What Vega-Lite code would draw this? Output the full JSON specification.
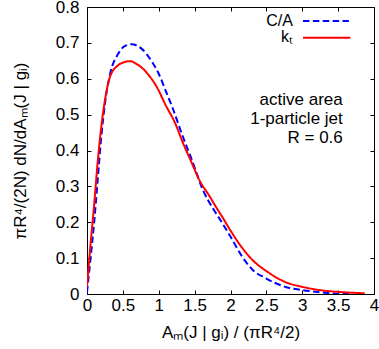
{
  "$schema": "https://vega.github.io/schema/vega-lite/v6.json",
  "autosize": "none",
  "width": 287,
  "height": 287,
  "padding": {"left": 87, "top": 7, "right": 5, "bottom": 56},
  "background": "white",
  "config": {
    "font": "Liberation Sans",
    "view": {"stroke": "black", "strokeWidth": 1},
    "axis": {"grid": false, "domain": false, "tickColor": "black", "tickSize": -4, "labelFontSize": 17, "labelColor": "black", "titleFontSize": 17, "titleFontWeight": "normal", "titleColor": "black", "labelFont": "Liberation Sans", "titleFont": "Liberation Sans"}
  },
  "data": {"values": [
    {"alg": "C/A", "x": 0, "y": 0.005},
    {"alg": "C/A", "x": 0.05, "y": 0.1},
    {"alg": "C/A", "x": 0.1, "y": 0.2},
    {"alg": "C/A", "x": 0.15, "y": 0.32},
    {"alg": "C/A", "x": 0.2, "y": 0.44},
    {"alg": "C/A", "x": 0.25, "y": 0.53},
    {"alg": "C/A", "x": 0.32, "y": 0.612},
    {"alg": "C/A", "x": 0.43, "y": 0.668},
    {"alg": "C/A", "x": 0.52, "y": 0.69},
    {"alg": "C/A", "x": 0.62, "y": 0.696},
    {"alg": "C/A", "x": 0.7, "y": 0.692},
    {"alg": "C/A", "x": 0.76, "y": 0.684},
    {"alg": "C/A", "x": 0.88, "y": 0.655},
    {"alg": "C/A", "x": 0.99, "y": 0.618},
    {"alg": "C/A", "x": 1.1, "y": 0.565},
    {"alg": "C/A", "x": 1.2, "y": 0.515},
    {"alg": "C/A", "x": 1.32, "y": 0.447},
    {"alg": "C/A", "x": 1.45, "y": 0.38},
    {"alg": "C/A", "x": 1.62, "y": 0.288},
    {"alg": "C/A", "x": 1.75, "y": 0.24},
    {"alg": "C/A", "x": 1.85, "y": 0.209},
    {"alg": "C/A", "x": 2.0, "y": 0.16},
    {"alg": "C/A", "x": 2.15, "y": 0.108},
    {"alg": "C/A", "x": 2.31, "y": 0.067},
    {"alg": "C/A", "x": 2.5, "y": 0.043},
    {"alg": "C/A", "x": 2.78, "y": 0.019},
    {"alg": "C/A", "x": 3.0, "y": 0.011},
    {"alg": "C/A", "x": 3.24, "y": 0.005},
    {"alg": "C/A", "x": 3.47, "y": 0.001},
    {"alg": "C/A", "x": 3.7, "y": 0.0},
    {"alg": "kₜ", "x": 0, "y": 0.02},
    {"alg": "kₜ", "x": 0.05, "y": 0.14},
    {"alg": "kₜ", "x": 0.1, "y": 0.25},
    {"alg": "kₜ", "x": 0.15, "y": 0.37},
    {"alg": "kₜ", "x": 0.19, "y": 0.45},
    {"alg": "kₜ", "x": 0.25, "y": 0.54},
    {"alg": "kₜ", "x": 0.32, "y": 0.605},
    {"alg": "kₜ", "x": 0.43, "y": 0.637},
    {"alg": "kₜ", "x": 0.5, "y": 0.645},
    {"alg": "kₜ", "x": 0.6, "y": 0.649},
    {"alg": "kₜ", "x": 0.7, "y": 0.64},
    {"alg": "kₜ", "x": 0.78, "y": 0.628},
    {"alg": "kₜ", "x": 0.88, "y": 0.605},
    {"alg": "kₜ", "x": 0.97, "y": 0.578},
    {"alg": "kₜ", "x": 1.1, "y": 0.525},
    {"alg": "kₜ", "x": 1.22, "y": 0.48},
    {"alg": "kₜ", "x": 1.34, "y": 0.42},
    {"alg": "kₜ", "x": 1.45, "y": 0.37},
    {"alg": "kₜ", "x": 1.57, "y": 0.316},
    {"alg": "kₜ", "x": 1.7, "y": 0.275},
    {"alg": "kₜ", "x": 1.8, "y": 0.242},
    {"alg": "kₜ", "x": 1.9, "y": 0.21},
    {"alg": "kₜ", "x": 2.0, "y": 0.177},
    {"alg": "kₜ", "x": 2.15, "y": 0.132},
    {"alg": "kₜ", "x": 2.31, "y": 0.094},
    {"alg": "kₜ", "x": 2.5, "y": 0.064},
    {"alg": "kₜ", "x": 2.78, "y": 0.032},
    {"alg": "kₜ", "x": 3.0, "y": 0.02},
    {"alg": "kₜ", "x": 3.24, "y": 0.011},
    {"alg": "kₜ", "x": 3.5, "y": 0.006},
    {"alg": "kₜ", "x": 3.87, "y": 0.002}
  ]},
  "resolve": {"axis": {"x": "independent", "y": "independent"}},
  "layer": [
    {
      "mark": {"type": "line", "strokeWidth": 2, "clip": true, "interpolate": "monotone"},
      "encoding": {
        "x": {"field": "x", "type": "quantitative", "scale": {"domain": [0, 4], "nice": false},
          "axis": {"orient": "bottom", "values": [0, 0.5, 1, 1.5, 2, 2.5, 3, 3.5, 4], "format": "~g", "labelPadding": 7, "labelFlush": false, "title": "Aₘ(J | gᵢ) / (πR⁴/2)", "titlePadding": 11}},
        "y": {"field": "y", "type": "quantitative", "scale": {"domain": [0, 0.8], "nice": false},
          "axis": {"orient": "left", "values": [0, 0.1, 0.2, 0.3, 0.4, 0.5, 0.6, 0.7, 0.8], "format": "~g", "labelPadding": 12, "labelFlush": false, "title": "πR⁴/(2N) dN/dAₘ(J | gᵢ)", "titlePadding": 26}},
        "color": {"field": "alg", "type": "nominal", "scale": {"domain": ["C/A", "kₜ"], "range": ["#0000ff", "#ff0000"]}, "legend": null},
        "strokeDash": {"field": "alg", "type": "nominal", "scale": {"domain": ["C/A", "kₜ"], "range": [[6.5, 3.4], [1, 0]]}, "legend": null}
      }
    },
    {
      "mark": {"type": "point", "opacity": 0},
      "encoding": {
        "x": {"field": "x", "type": "quantitative", "scale": {"domain": [0, 4], "nice": false},
          "axis": {"orient": "top", "values": [0, 0.5, 1, 1.5, 2, 2.5, 3, 3.5, 4], "labels": false, "title": null}},
        "y": {"field": "y", "type": "quantitative", "scale": {"domain": [0, 0.8], "nice": false},
          "axis": {"orient": "right", "values": [0, 0.1, 0.2, 0.3, 0.4, 0.5, 0.6, 0.7, 0.8], "labels": false, "title": null}}
      }
    },
    {
      "data": {"values": [{}]},
      "mark": {"type": "text", "align": "right", "baseline": "middle", "fontSize": 17, "font": "Liberation Sans", "color": "black", "lineHeight": 19},
      "encoding": {
        "x": {"datum": 3.565, "type": "quantitative", "axis": null},
        "y": {"datum": 0.542, "type": "quantitative", "axis": null},
        "text": {"value": ["active area", "1-particle jet", "R = 0.6"]}
      }
    },
    {
      "data": {"values": [{}]},
      "mark": {"type": "text", "align": "right", "baseline": "middle", "fontSize": 16, "font": "Liberation Sans", "color": "black"},
      "encoding": {
        "x": {"datum": 2.87, "type": "quantitative", "axis": null},
        "y": {"datum": 0.762, "type": "quantitative", "axis": null},
        "text": {"value": "C/A"}
      }
    },
    {
      "data": {"values": [{}]},
      "mark": {"type": "text", "align": "right", "baseline": "middle", "fontSize": 16, "font": "Liberation Sans", "color": "black"},
      "encoding": {
        "x": {"datum": 2.87, "type": "quantitative", "axis": null},
        "y": {"datum": 0.715, "type": "quantitative", "axis": null},
        "text": {"value": "kₜ"}
      }
    },
    {
      "data": {"values": [{}]},
      "mark": {"type": "rule", "strokeWidth": 2, "color": "#0000ff", "strokeDash": [6.5, 3.4]},
      "encoding": {
        "x": {"datum": 3.01, "type": "quantitative", "axis": null},
        "x2": {"datum": 3.65},
        "y": {"datum": 0.761, "type": "quantitative", "axis": null}
      }
    },
    {
      "data": {"values": [{}]},
      "mark": {"type": "rule", "strokeWidth": 2, "color": "#ff0000"},
      "encoding": {
        "x": {"datum": 3.01, "type": "quantitative", "axis": null},
        "x2": {"datum": 3.67},
        "y": {"datum": 0.714, "type": "quantitative", "axis": null}
      }
    }
  ]
}
